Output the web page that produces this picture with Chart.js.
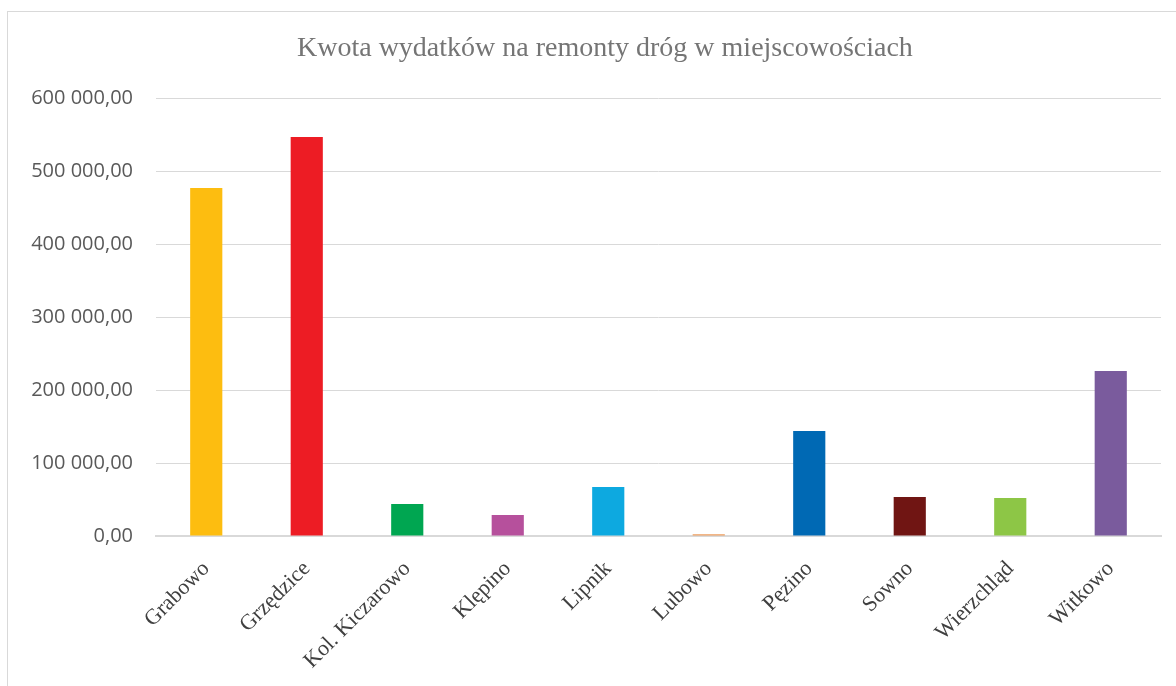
<!DOCTYPE html>
<html>
<head>
<meta charset="utf-8">
<script src="https://cdn.jsdelivr.net/npm/chart.js@4/dist/chart.umd.min.js"></script>
<style>
  html, body { margin: 0; padding: 0; background: #ffffff; }
  #wrap { position: relative; width: 1176px; height: 686px; overflow: hidden; }
  #frame { position: absolute; left: 7px; top: 11px; width: 1300px; height: 800px;
           border-left: 1px solid #d9d9d9; border-top: 1px solid #d9d9d9; box-sizing: border-box; }
  canvas { position: absolute; left: 0; top: 0; }
  #title { position: absolute; left: 297px; width: 600px; top: 30px; text-align: center;
           font-family: 'Liberation Serif', 'DejaVu Serif', serif; font-size: 28px; line-height: 34px;
           color: #757575; white-space: nowrap; z-index: 2; }
</style>
</head>
<body>
<div id="wrap">
  <div id="frame"></div>
  <canvas id="c" width="1176" height="686"></canvas>
  <div id="title"></div>
</div>
<script>
const chartTitle = "Kwota wydatków na remonty dróg w miejscowościach";
const categories = ["Grabowo", "Grzędzice", "Kol. Kiczarowo", "Klępino", "Lipnik", "Lubowo", "Pęzino", "Sowno", "Wierzchląd", "Witkowo"];
const amounts = [476700, 546600, 43800, 28800, 67000, 2500, 143800, 53400, 52000, 226000];
const barColors = ["#FDBD10", "#ED1C24", "#00A651", "#B6509C", "#0DA9E0", "#EE9E5E", "#0069B4", "#701513", "#8DC646", "#7A5B9D"];
const yMin = 0, yMax = 600000, yStep = 100000;

document.getElementById("title").textContent = chartTitle;

function plFormat(v) {
  const s = Math.round(v).toString().replace(/\B(?=(\d{3})+(?!\d))/g, " ");
  return s + ",00";
}

new Chart(document.getElementById("c"), {
  type: "bar",
  data: {
    labels: categories,
    datasets: [{
      data: amounts,
      backgroundColor: barColors,
      borderWidth: 0,
      barPercentage: 0.32,
      categoryPercentage: 1
    }]
  },
  options: {
    responsive: false,
    animation: false,
    devicePixelRatio: 1,
    layout: { padding: { left: 0, right: 15, top: 98, bottom: 0 } },
    plugins: {
      legend: { display: false },
      tooltip: { enabled: false },
      title: { display: false }
    },
    scales: {
      x: {
        grid: { display: false, drawTicks: false },
        border: { display: true, color: "#d9d9d9", width: 2 },
        ticks: {
          color: "#404040",
          font: { family: "'Liberation Serif', 'DejaVu Serif', serif", size: 22 },
          minRotation: 45, maxRotation: 45,
          padding: 20,
          autoSkip: false
        },
        afterFit: (s) => { s.height = 150; }
      },
      y: {
        min: yMin, max: yMax,
        grid: { color: "#d9d9d9", lineWidth: 1, drawTicks: false },
        border: { display: false },
        ticks: {
          stepSize: yStep,
          color: "#595959",
          font: { family: "'Open Sans', 'Liberation Sans', sans-serif", size: 20 },
          padding: 23,
          callback: (v) => plFormat(v)
        },
        afterFit: (s) => { s.width = 156; }
      }
    }
  }
});
</script>
</body>
</html>
